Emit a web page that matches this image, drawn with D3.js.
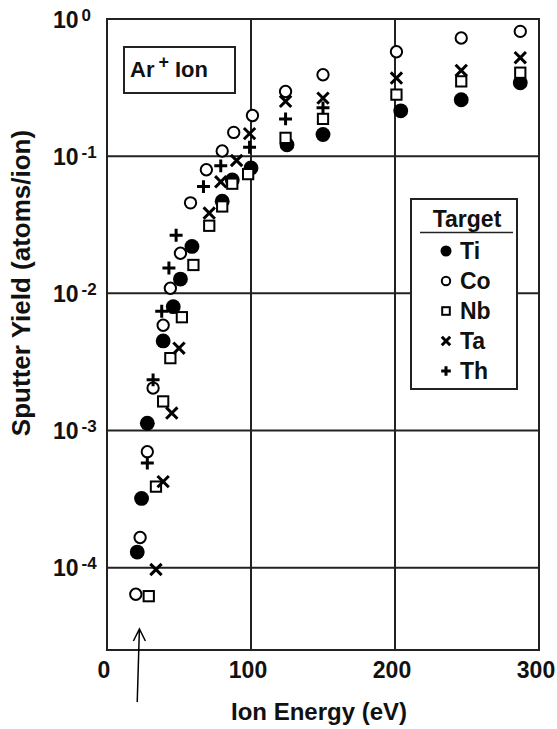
<!DOCTYPE html>
<meta charset="utf-8">
<script src="https://d3js.org/d3.v7.min.js"></script>
<style>
  body { margin: 0; background: #fff; }
  svg { display: block; }
  text { font-family: "Liberation Sans", Arial, Helvetica, sans-serif; font-weight: bold; fill: #111; }
</style>
<svg></svg>
<script>

    var width = 557;
    var height = 729;
    var margin = ({top: 19, right: 18, bottom: 79, left: 107});

    // ion energy (eV) and sputter yield (atoms/ion)
    var tiE = [21, 24, 28, 39, 46, 51, 59, 80, 87, 100, 125, 150, 204, 246, 287];
    var tiY = [1.3e-4, 3.2e-4, 1.13e-3, 4.5e-3, 8.0e-3, 1.27e-2, 2.2e-2, 4.7e-2, 6.7e-2, 8.2e-2, 0.121, 0.144, 0.214, 0.258, 0.343];

    var coE = [20, 23, 28, 32, 39, 44, 51, 58, 69, 80, 88, 101, 124, 150, 201, 246, 287];
    var coY = [6.4e-5, 1.66e-4, 7.0e-4, 2.04e-3, 5.85e-3, 1.09e-2, 1.96e-2, 4.57e-2, 7.96e-2, 0.109, 0.149, 0.198, 0.296, 0.392, 0.577, 0.727, 0.812];

    var nbE = [29, 34, 39, 44, 52, 60, 71, 80, 87, 98, 124, 150, 201, 246, 287];
    var nbY = [6.2e-5, 3.9e-4, 1.63e-3, 3.37e-3, 6.7e-3, 1.61e-2, 3.11e-2, 4.3e-2, 6.3e-2, 7.4e-2, 0.136, 0.187, 0.281, 0.351, 0.406];

    var taE = [34, 39, 45, 50, 71, 79, 90, 99, 124, 150, 201, 246, 287];
    var taY = [9.7e-5, 4.24e-4, 1.34e-3, 3.98e-3, 3.85e-2, 6.5e-2, 9.3e-2, 0.146, 0.251, 0.265, 0.371, 0.422, 0.522];

    var thE = [28, 32, 38, 43, 48, 67, 79, 99, 124, 150];
    var thY = [5.8e-4, 2.34e-3, 7.4e-3, 1.53e-2, 2.65e-2, 6.0e-2, 8.5e-2, 0.116, 0.187, 0.225];

    var targets = ["Ti", "Co", "Nb", "Ta", "Th"];
    var xTicks = [0, 100, 200, 300];
    var yTicks = [1e0, 1e-1, 1e-2, 1e-3, 1e-4];
    var yExps = ["0", "-1", "-2", "-3", "-4"];

    var series = [
        {name: "Ti", shape: "dot", E: tiE, Y: tiY},
        {name: "Co", shape: "ring", E: coE, Y: coY},
        {name: "Nb", shape: "square", E: nbE, Y: nbY},
        {name: "Ta", shape: "cross", E: taE, Y: taY},
        {name: "Th", shape: "plus", E: thE, Y: thY}
    ];

    var x = d3.scaleLinear()
        .domain([0, 300])
        .range([margin.left, width - margin.right]);

    var y = d3.scaleLog()
        .domain([Math.pow(10, -4.6), 1])
        .range([height - margin.bottom, margin.top]);

    var svg = d3.select("svg")
        .attr("width", width)
        .attr("height", height)
        .attr("viewBox", [0, 0, width, height]);

    var ink = "#222";

    // grid
    svg.append("g")
        .selectAll("line")
        .data([100, 200])
        .join("line")
        .attr("x1", d => x(d)).attr("x2", d => x(d))
        .attr("y1", margin.top).attr("y2", height - margin.bottom)
        .attr("stroke", ink).attr("stroke-width", 2);

    svg.append("g")
        .selectAll("line")
        .data(yTicks.slice(1))
        .join("line")
        .attr("x1", margin.left).attr("x2", width - margin.right)
        .attr("y1", d => y(d)).attr("y2", d => y(d))
        .attr("stroke", ink).attr("stroke-width", 2);

    svg.append("rect")
        .attr("x", margin.left).attr("y", margin.top)
        .attr("width", width - margin.left - margin.right)
        .attr("height", height - margin.top - margin.bottom)
        .attr("fill", "none").attr("stroke", ink).attr("stroke-width", 2);

    // x tick labels
    svg.append("g")
        .selectAll("text")
        .data(xTicks)
        .join("text")
        .attr("x", d => x(d) - 3)
        .attr("y", 678)
        .attr("text-anchor", "middle")
        .attr("font-size", 23)
        .text(d => d);

    // y tick labels, 10 with superscript exponent
    var yl = svg.append("g")
        .selectAll("text")
        .data(yTicks)
        .join("text")
        .attr("x", 53)
        .attr("y", d => y(d) + 8.5)
        .attr("font-size", 23);
    yl.append("tspan").text("10");
    yl.append("tspan")
        .attr("dx", 3)
        .attr("dy", -7)
        .attr("font-size", 17)
        .text((d, i) => yExps[i]);

    // axis titles
    svg.append("text")
        .attr("x", (x(0) + x(300)) / 2 - 4)
        .attr("y", 720)
        .attr("text-anchor", "middle")
        .attr("font-size", 24)
        .text("Ion Energy (eV)");

    svg.append("text")
        .attr("transform", "translate(30,283) rotate(-90)")
        .attr("text-anchor", "middle")
        .attr("font-size", 26)
        .text("Sputter Yield (atoms/ion)");

    // markers
    function drawMark(g, shape, s) {
        if (shape == "dot") {
            g.append("circle").attr("r", s * 0.55).attr("fill", "#000");
        } else if (shape == "ring") {
            g.append("circle").attr("r", s * 0.42).attr("fill", "#fff")
                .attr("stroke", "#000").attr("stroke-width", 2);
        } else if (shape == "square") {
            var h = s * 0.38;
            g.append("rect").attr("x", -h).attr("y", -h)
                .attr("width", 2 * h).attr("height", 2 * h)
                .attr("fill", "#fff").attr("stroke", "#000").attr("stroke-width", 2);
        } else if (shape == "cross") {
            var c = s * 0.42;
            g.append("path").attr("d", `M${-c},${-c}L${c},${c}M${-c},${c}L${c},${-c}`)
                .attr("stroke", "#000").attr("stroke-width", 3);
        } else {
            var p = s * 0.48;
            g.append("path").attr("d", `M${-p},0L${p},0M0,${-p}L0,${p}`)
                .attr("stroke", "#000").attr("stroke-width", 3);
        }
    }

    series.forEach(function(sr) {
        var pts = sr.E.map((e, i) => ({e: e, v: sr.Y[i]}));
        svg.append("g")
            .selectAll("g")
            .data(pts)
            .join("g")
            .attr("transform", d => `translate(${x(d.e)},${y(d.v)})`)
            .each(function() { drawMark(d3.select(this), sr.shape, 13.5); });
    });

    // "Ar+ Ion" box
    svg.append("rect")
        .attr("x", 124).attr("y", 47).attr("width", 111).attr("height", 46)
        .attr("fill", "#fff").attr("stroke", ink).attr("stroke-width", 2);
    var ar = svg.append("text").attr("x", 130).attr("y", 77).attr("font-size", 22);
    ar.append("tspan").text("Ar");
    ar.append("tspan").attr("dx", 4).attr("dy", -9).attr("font-size", 18).text("+");
    ar.append("tspan").attr("dx", 6).attr("dy", 9).text("Ion");

    // target legend
    var lg = svg.append("g");
    lg.append("rect")
        .attr("x", 411).attr("y", 199).attr("width", 106).attr("height", 190)
        .attr("fill", "#fff").attr("stroke", ink).attr("stroke-width", 2);
    lg.append("text").attr("x", 467).attr("y", 227)
        .attr("text-anchor", "middle").attr("font-size", 23).text("Target");
    lg.append("line").attr("x1", 420).attr("x2", 513).attr("y1", 232.5).attr("y2", 232.5)
        .attr("stroke", ink).attr("stroke-width", 1.5);

    var item = lg.selectAll("g.item")
        .data(series)
        .join("g")
        .attr("class", "item")
        .attr("transform", (d, i) => `translate(0,${251 + i * 30})`);
    item.append("g")
        .attr("transform", "translate(446,0)")
        .each(function(d) { drawMark(d3.select(this), d.shape, 10); });
    item.append("text")
        .attr("x", 460).attr("y", 8)
        .attr("font-size", 23)
        .text((d, i) => targets[i]);

    // arrow marking threshold
    svg.append("path")
        .attr("d", `M${x(21)},702L${x(22.5)},629M${x(22.5) - 6},641L${x(22.5)},629L${x(22.5) + 6},641`)
        .attr("fill", "none").attr("stroke", "#000").attr("stroke-width", 1.5);

</script>
